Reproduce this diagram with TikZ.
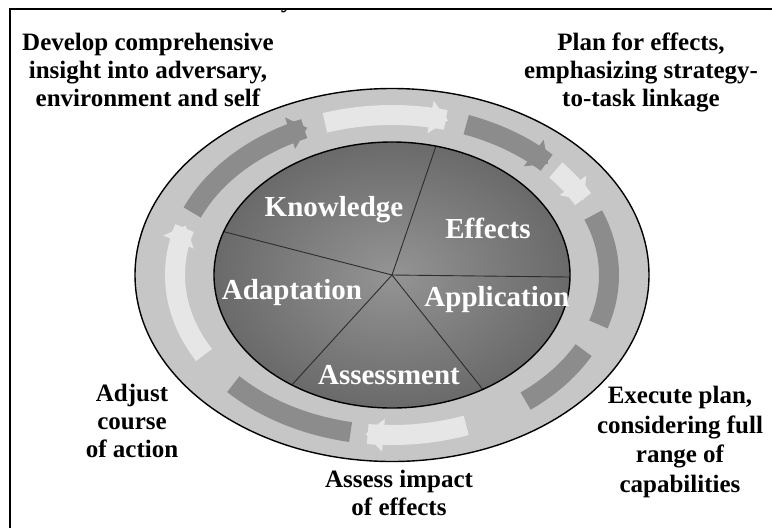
\documentclass[tikz,border=0pt]{standalone}
\usepackage{fontspec}
\setmainfont{Liberation Serif}
\usetikzlibrary{arrows.meta}
\definecolor{ringgray}{RGB}{198,198,198}
\definecolor{banddark}{RGB}{140,140,140}
\definecolor{bandlight}{RGB}{230,230,230}
\definecolor{pieedge}{RGB}{148,148,148}
\definecolor{piecore}{RGB}{106,106,106}
\definecolor{pieline}{RGB}{45,45,45}
\tikzset{
  outtext/.style={align=center,font=\fontsize{25}{28}\selectfont\bfseries,text=black,inner sep=0pt},
  pietext/.style={font=\fontsize{29}{32}\selectfont\bfseries,text=white,inner sep=0pt},
  darkband/.style={line width=20pt,draw=banddark,-{Triangle[length=18pt,width=32pt]}},
  darkplain/.style={line width=20pt,draw=banddark},
  lightband/.style={line width=20pt,draw=bandlight,-{Triangle[length=18pt,width=32pt]}},
  sector/.style={draw=pieline,line width=0.9pt},
  rim/.style={draw=black,line width=1.4pt}
}
\newcommand{\ringarc}[3]{\draw[#1] plot[domain=#2:#3,samples=40,smooth] ({392+217*cos(\x)},{275+160*sin(\x)});}
\begin{document}
\begin{tikzpicture}[x=1pt,y=-1pt]
\useasboundingbox (0,0) rectangle (772,528);
\fill[white] (0,0) rectangle (772,528);
% frame
\draw[line width=1.5pt] (10,528) -- (10,9) -- (772,9);
\begin{scope}
\clip (10,9) rectangle (772,30);
\node[font=\fontsize{25}{28}\selectfont\bfseries,anchor=base,inner sep=0pt] (ttl) at (287,7) {y};
\end{scope}
% outer ring
\coordinate (ctr) at (392,275);
\fill[ringgray] (ctr) ellipse [x radius=257pt, y radius=186.5pt];
% ring bands (clockwise = increasing angle)
\ringarc{darkband}{203}{247}
\ringarc{lightband}{252}{285}
\ringarc{darkband}{290}{316}
\ringarc{lightband}{319}{332}
\ringarc{darkplain}{338}{378}
\ringarc{darkplain}{388}{412}
\ringarc{lightband}{70}{97}
\ringarc{darkplain}{101}{137}
\ringarc{lightband}{150}{198}
\draw[rim] (ctr) ellipse [x radius=257pt, y radius=186.5pt];
% inner pie
\shade[inner color=pieedge,outer color=piecore] (ctr) ellipse [x radius=178pt, y radius=133pt];
\begin{scope}
\clip (ctr) ellipse [x radius=178pt, y radius=133pt];
\coordinate (pU) at (459.5,77);
\coordinate (pL) at (141.5,210.5);
\coordinate (pR) at (656,278);
\coordinate (pLR) at (538,459);
\coordinate (pLL) at (239,443);
\draw[sector] (ctr) -- (pU);
\draw[sector] (ctr) -- (pL);
\draw[sector] (ctr) -- (pR);
\draw[sector] (ctr) -- (pLR);
\draw[sector] (ctr) -- (pLL);
\end{scope}
\draw[rim] (ctr) ellipse [x radius=178pt, y radius=133pt];
% pie labels
\node[pietext] (know) at (334,210) {Knowledge};
\node[pietext] (eff) at (488,228) {Effects};
\node[pietext] (adapt) at (292,293) {Adaptation};
\node[pietext] (appl) at (497,300) {Application};
\node[pietext] (assm) at (389,375) {Assessment};
% outer labels
\node[outtext] (tl) at (148,70) {Develop comprehensive\\insight into adversary,\\environment and self};
\node[outtext] (tr) at (641,72) {Plan for effects,\\emphasizing strategy-\\to-task linkage};
\node[outtext] (lf) at (132,421) {Adjust\\course\\of action};
\node[outtext] (bt) at (399,493) {Assess impact\\of effects};
\node[outtext,font=\fontsize{25}{29.5}\selectfont\bfseries] (rt) at (680,442) {Execute plan,\\considering full\\range of\\capabilities};
\end{tikzpicture}
\end{document}
